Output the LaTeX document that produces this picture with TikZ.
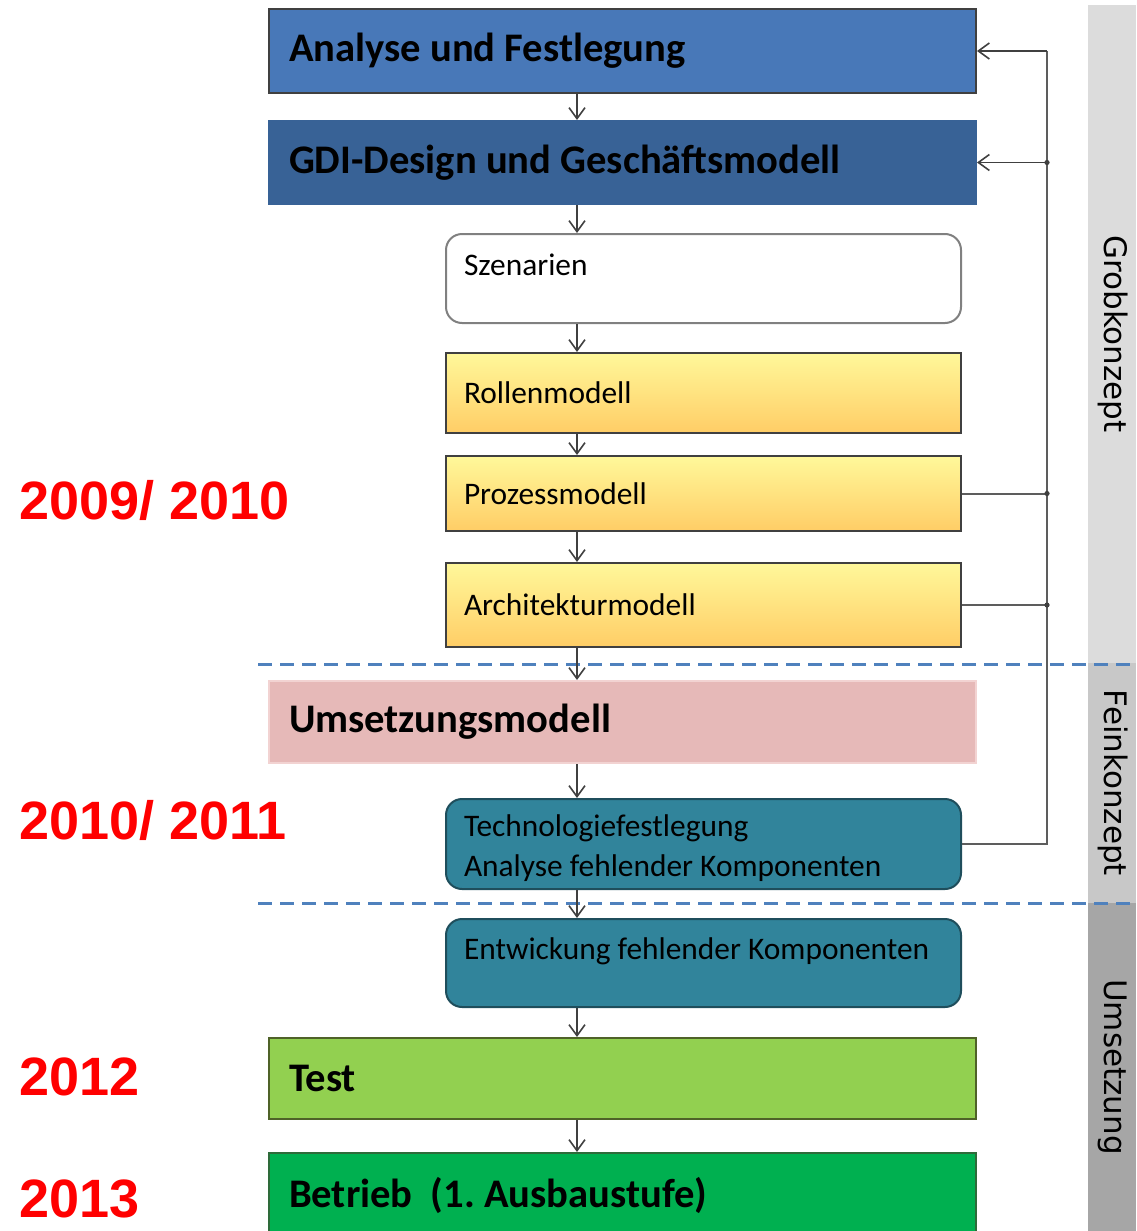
\documentclass[tikz,border=0pt]{standalone}
\usepackage{fontspec}
\setmainfont{Carlito}
\newfontfamily\yearfont{Liberation Sans}
\newfontfamily\bandfont{DejaVu Sans}
\usepackage{tikz}
\usetikzlibrary{positioning,arrows.meta,calc}
\frenchspacing

\definecolor{anablue}{HTML}{4878B8}
\definecolor{gdiblue}{HTML}{386296}
\definecolor{boxline}{HTML}{404040}
\definecolor{ylwtop}{HTML}{FFF89A}
\definecolor{ylwbot}{HTML}{FFCD66}
\definecolor{umspink}{HTML}{E6B9B8}
\definecolor{umsline}{HTML}{F2D3D2}
\definecolor{tealbox}{HTML}{31849B}
\definecolor{tealline}{HTML}{1F4E5C}
\definecolor{testgreen}{HTML}{92D050}
\definecolor{testline}{HTML}{4F6228}
\definecolor{betrgreen}{HTML}{00B050}
\definecolor{betrline}{HTML}{2E6B3A}
\definecolor{sepblue}{HTML}{4F81BD}
\definecolor{bandA}{HTML}{DCDCDC}
\definecolor{bandB}{HTML}{C8C8C8}
\definecolor{bandC}{HTML}{A6A6A6}

\begin{document}
\begin{tikzpicture}[
  x=0.5pt, y=-0.5pt,
  bigbox/.style={draw=boxline, line width=1pt, anchor=north west,
    minimum height=#1, text width=333.5pt, inner xsep=10pt, align=flush left,
    font=\bfseries\fontsize{20.3}{23}\selectfont},
  smallbox/.style={draw=boxline, line width=1pt, anchor=north west,
    minimum height=#1, text width=239.5pt, inner xsep=9pt, align=flush left,
    font=\fontsize{15.7}{20}\selectfont},
  yellowbox/.style={smallbox=#1, top color=ylwtop, bottom color=ylwbot},
  tealround/.style={smallbox=#1, fill=tealbox, draw=tealline, rounded corners=8pt},
  band/.style={rotate=-90, minimum width=#1, minimum height=24pt, inner sep=0pt,
    font=\bandfont\fontsize{15.5}{18}\selectfont},
  year/.style={anchor=west, text=red, font=\yearfont\bfseries\fontsize{27}{30}\selectfont},
  arr/.style={-{Straight Barb[length=5.5pt,width=8pt]}, line width=0.8pt, draw=boxline},
  fb/.style={line width=1pt, draw=boxline!85},
  sepline/.style={draw=sepblue, line width=1.5pt, dash pattern=on 7pt off 4pt}
]
\useasboundingbox (0,0) rectangle (1136,1231);

% phase bands on the right
\fill[bandA] (1088,5) rectangle (1136,663);
\fill[bandB] (1088,663) rectangle (1136,903);
\fill[bandC] (1088,903) rectangle (1136,1231);
\node[band=329pt] (grob) at (1113,334) {Grobkonzept};
\node[band=120pt] (fein) at (1113,783) {Feinkonzept};
\node[band=164pt] (ums) at (1113,1067) {Umsetzung};

% steps
\node[bigbox=42pt, fill=anablue] (ana) at (268,8) {Analyse und Festlegung};
\node[bigbox=41.5pt, fill=gdiblue, draw=gdiblue] (gdi) at (268,120) {GDI-Design und Gesch\"aftsmodell};
\node[smallbox=44.5pt, draw=gray, rounded corners=8pt, fill=white] (szen) at (445,233) {\rule{0pt}{17pt}Szenarien\\\mbox{}};
\node[yellowbox=40pt] (roll) at (445,352) {Rollenmodell};
\node[yellowbox=37.5pt] (proz) at (445,455) {Prozessmodell};
\node[yellowbox=42pt] (arch) at (445,562) {Architekturmodell};
\node[bigbox=41pt, fill=umspink, draw=umsline] (umsm) at (268,680) {Umsetzungsmodell};
\node[tealround=45pt] (tech) at (445,798) {\rule{0pt}{15pt}Technologiefestlegung\\Analyse fehlender Komponenten};
\node[tealround=44pt] (entw) at (445,918) {\rule{0pt}{16pt}Entwickung fehlender Komponenten\\\mbox{}};
\node[bigbox=40.5pt, fill=testgreen, draw=testline] (test) at (268,1037) {Test};
\node[bigbox=42pt, fill=betrgreen, draw=betrline] (betr) at (268,1152) {Betrieb\ \ (1. Ausbaustufe)};

% years
\node[year] (y1) at (12,500) {2009/ 2010};
\node[year] (y2) at (12,820) {2010/ 2011};
\node[year] (y3) at (12,1077) {2012};
\node[year] (y4) at (12,1199) {2013};

% phase borders
\coordinate (sepA) at (258,664);
\coordinate (sepB) at (258,903);
\coordinate (edge) at (1136,0);
\draw[sepline] (sepA) -- (sepA -| edge);
\draw[sepline] (sepB) -- (sepB -| edge);

% flow
\coordinate (col) at (577,0);
\foreach \a/\b in {ana/gdi,gdi/szen,szen/roll,roll/proz,proz/arch,arch/umsm,umsm/tech,tech/entw,entw/test,test/betr}
  \draw[arr] (\a.south -| col) -- (\b.north -| col);

% feedback
\coordinate (fbx) at (1047,0);
\draw[fb] (tech.east) -- (tech.east -| fbx) -- (ana.east -| fbx);
\draw[fb] (proz.east) -- (proz.east -| fbx);
\draw[fb] (arch.east) -- (arch.east -| fbx);
\foreach \n in {proz,arch,gdi}
  \fill[boxline] (\n.east -| fbx) circle (1.3pt);
\draw[arr] (ana.east -| fbx) -- (ana.east);
\draw[arr] (gdi.east -| fbx) -- (gdi.east);

\end{tikzpicture}
\end{document}
